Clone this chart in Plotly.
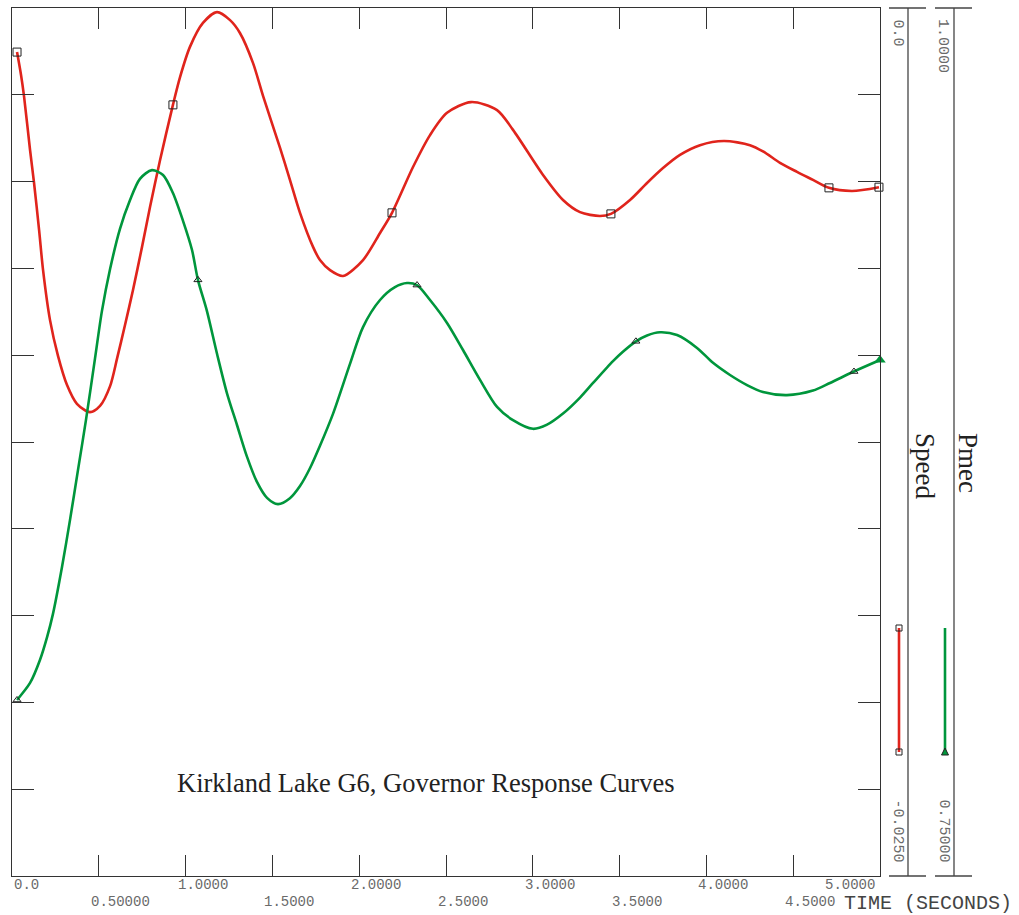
import plotly.graph_objects as go

# ---------------- data ----------------
speed_t = [0.029, 0.052, 0.069, 0.104, 0.127, 0.156, 0.179, 0.219, 0.265, 0.317,
           0.374, 0.449, 0.507, 0.565, 0.605, 0.651, 0.697, 0.749, 0.795, 0.853,
           0.927, 0.968, 1.025, 1.100, 1.181, 1.256, 1.313, 1.388, 1.446, 1.544,
           1.601, 1.659, 1.734, 1.774, 1.832, 1.907, 2.022, 2.120, 2.189, 2.310,
           2.408, 2.506, 2.644, 2.794, 2.886, 3.059, 3.174, 3.272, 3.387, 3.450,
           3.560, 3.658, 3.750, 3.848, 3.963, 4.101, 4.251, 4.326, 4.424, 4.522,
           4.614, 4.706, 4.839, 4.994]
speed_v = [-0.00127, -0.00193, -0.00253, -0.00409, -0.00504, -0.00639, -0.00755, -0.00899, -0.01002, -0.01086,
           -0.01140, -0.01164, -0.01146, -0.01089, -0.01010, -0.00913, -0.00812, -0.00688, -0.00573, -0.00438,
           -0.00279, -0.00199, -0.00112, -0.00043, -0.00012, -0.00035, -0.00072, -0.00158, -0.00253, -0.00403,
           -0.00495, -0.00590, -0.00688, -0.00726, -0.00755, -0.00772, -0.00726, -0.00648, -0.00590, -0.00458,
           -0.00366, -0.00302, -0.00271, -0.00294, -0.00351, -0.00481, -0.00553, -0.00588, -0.00599, -0.00593,
           -0.00553, -0.00504, -0.00461, -0.00423, -0.00395, -0.00383, -0.00395, -0.00413, -0.00446, -0.00472,
           -0.00495, -0.00518, -0.00527, -0.00516]

pmec_t = [0.029, 0.104, 0.161, 0.202, 0.236, 0.288, 0.334, 0.380, 0.426, 0.478,
          0.518, 0.565, 0.622, 0.680, 0.737, 0.806, 0.870, 0.927, 0.985, 1.037,
          1.071, 1.123, 1.181, 1.238, 1.296, 1.354, 1.411, 1.469, 1.532, 1.601,
          1.659, 1.717, 1.774, 1.849, 1.947, 2.022, 2.120, 2.206, 2.275, 2.333,
          2.408, 2.506, 2.598, 2.696, 2.794, 2.886, 3.001, 3.082, 3.174, 3.272,
          3.347, 3.462, 3.519, 3.594, 3.658, 3.733, 3.831, 3.946, 4.038, 4.136,
          4.234, 4.326, 4.464, 4.614, 4.712, 4.850, 5.000]
pmec_v = [0.8007, 0.8056, 0.8122, 0.8188, 0.8255, 0.8390, 0.8525, 0.8669, 0.8813, 0.8990,
          0.9127, 0.9248, 0.9364, 0.9447, 0.9508, 0.9533, 0.9519, 0.9467, 0.9387, 0.9303,
          0.9217, 0.9127, 0.9004, 0.8891, 0.8799, 0.8707, 0.8635, 0.8589, 0.8571, 0.8588,
          0.8623, 0.8675, 0.8739, 0.8831, 0.8975, 0.9081, 0.9159, 0.9196, 0.9208, 0.9202,
          0.9159, 0.9093, 0.9015, 0.8929, 0.8851, 0.8813, 0.8788, 0.8800, 0.8832, 0.8878,
          0.8920, 0.8983, 0.9010, 0.9040, 0.9057, 0.9066, 0.9058, 0.9021, 0.8978, 0.8943,
          0.8914, 0.8894, 0.8885, 0.8898, 0.8920, 0.8953, 0.8986]

speed_mark_t = [0.029, 0.927, 2.189, 3.450, 4.706, 4.994]
speed_mark_v = [-0.00127, -0.00279, -0.00590, -0.00593, -0.00518, -0.00516]
pmec_mark_t = [0.029, 1.071, 2.333, 3.594, 4.850]
pmec_mark_v = [0.8007, 0.9217, 0.9202, 0.9040, 0.8953]

x_ticks = [0.0, 0.5, 1.0, 1.5, 2.0, 2.5, 3.0, 3.5, 4.0, 4.5, 5.0]
x_tick_labels = ["0.0", "0.50000", "1.0000", "1.5000", "2.0000", "2.5000",
                 "3.0000", "3.5000", "4.0000", "4.5000", "5.0000"]
speed_range = [-0.025, 0.0]
pmec_range = [0.75, 1.0]
speed_range_labels = ["-0.0250", "0.0"]
pmec_range_labels = ["0.75000", "1.0000"]
title_text = "Kirkland Lake G6, Governor Response Curves"

RED = "#e0241c"
GREEN = "#00963c"

# ---------------- geometry ----------------
W, H = 1019, 915
L, R, T, B = 12, 880, 8, 876   # plot-area pixel box
pw, ph = R - L, B - T


def px(x):
    return (x - L) / pw


def py(y):
    return (B - y) / ph


fig = go.Figure()

fig.add_trace(go.Scatter(x=speed_t, y=speed_v, mode="lines", line=dict(color=RED, width=2.6, shape="spline", smoothing=0.8),
                         yaxis="y", showlegend=False, hoverinfo="skip"))
fig.add_trace(go.Scatter(x=pmec_t, y=pmec_v, mode="lines", line=dict(color=GREEN, width=2.6, shape="spline", smoothing=0.8),
                         yaxis="y2", showlegend=False, hoverinfo="skip"))
fig.add_trace(go.Scatter(x=speed_mark_t, y=speed_mark_v, mode="markers",
                         marker=dict(symbol="square-open", size=8, color="#222", line=dict(width=1)),
                         yaxis="y", showlegend=False, hoverinfo="skip", cliponaxis=False))
fig.add_trace(go.Scatter(x=pmec_mark_t, y=pmec_mark_v, mode="markers",
                         marker=dict(symbol="triangle-up-open", size=7, color="#222", line=dict(width=1)),
                         yaxis="y2", showlegend=False, hoverinfo="skip", cliponaxis=False))
fig.add_trace(go.Scatter(x=[pmec_t[-1]], y=[pmec_v[-1]], mode="markers",
                         marker=dict(symbol="triangle-up", size=10, color=GREEN),
                         yaxis="y2", showlegend=False, hoverinfo="skip", cliponaxis=False))

axis_line = "#333"
fig.update_layout(
    width=W, height=H,
    margin=dict(l=L, r=W - R, t=T, b=H - B, autoexpand=False),
    paper_bgcolor="white", plot_bgcolor="white",
    xaxis=dict(range=[0, 5], tickvals=x_ticks, showticklabels=False, ticks="inside", ticklen=21,
               tickcolor=axis_line, tickwidth=1.2, showline=True, linecolor=axis_line, linewidth=1.4,
               mirror="ticks", showgrid=False, zeroline=False),
    yaxis=dict(range=speed_range, dtick=0.0025, tick0=0, showticklabels=False, ticks="inside", ticklen=22,
               tickcolor=axis_line, tickwidth=1.2, showline=True, linecolor=axis_line, linewidth=1.4,
               mirror="ticks", showgrid=False, zeroline=False),
    yaxis2=dict(range=pmec_range, overlaying="y", visible=False),
)

ann = []
tick_font = dict(family="Liberation Mono, DejaVu Sans Mono, monospace", size=14, color="#6a6a6a")
for i, (v, lab) in enumerate(zip(x_ticks, x_tick_labels)):
    row_y = 885 if i % 2 == 0 else 902
    if i == 0:
        xa, xs = "left", 0
    elif i == len(x_ticks) - 1:
        xa, xs = "right", -3
    else:
        xa, xs = "left", -10
    ann.append(dict(x=v, xref="x", y=py(row_y), yref="paper", text=lab, showarrow=False,
                    xanchor=xa, yanchor="middle", xshift=xs, font=tick_font))

ann.append(dict(x=px(1014), xref="paper", y=py(903), yref="paper", text="TIME (SECONDS)", showarrow=False,
                xanchor="right", yanchor="middle",
                font=dict(family="Liberation Mono, DejaVu Sans Mono, monospace", size=20, color="#444")))

rot_font = dict(family="Liberation Mono, DejaVu Sans Mono, monospace", size=15, color="#6a6a6a")
ann.append(dict(x=px(897), xref="paper", y=py(17), yref="paper", text=speed_range_labels[1], textangle=90,
                showarrow=False, xanchor="center", yanchor="top", font=rot_font))
ann.append(dict(x=px(943), xref="paper", y=py(17), yref="paper", text=pmec_range_labels[1], textangle=90,
                showarrow=False, xanchor="center", yanchor="top", font=rot_font))
ann.append(dict(x=px(897), xref="paper", y=py(864), yref="paper", text=speed_range_labels[0], textangle=90,
                showarrow=False, xanchor="center", yanchor="bottom", font=rot_font))
ann.append(dict(x=px(943), xref="paper", y=py(864), yref="paper", text=pmec_range_labels[0], textangle=90,
                showarrow=False, xanchor="center", yanchor="bottom", font=rot_font))

name_font = dict(family="Liberation Serif, Times New Roman, serif", size=27, color="#222")
ann.append(dict(x=px(925), xref="paper", y=py(466), yref="paper", text="Speed", textangle=90,
                showarrow=False, xanchor="center", yanchor="middle", font=name_font))
ann.append(dict(x=px(968), xref="paper", y=py(463), yref="paper", text="Pmec", textangle=90,
                showarrow=False, xanchor="center", yanchor="middle", font=name_font))

ann.append(dict(x=px(426), xref="paper", y=py(783), yref="paper", text=title_text, showarrow=False,
                xanchor="center", yanchor="middle",
                font=dict(family="Liberation Serif, Times New Roman, serif", size=26.5, color="#222")))

fig.update_layout(annotations=ann)

# side panels and legend samples
shapes = []
panel = dict(color="#444", width=1.3)
for vx, h0, h1 in [(908, 889, 926), (954, 935, 972)]:
    shapes.append(dict(type="line", xref="paper", yref="paper", x0=px(vx), x1=px(vx), y0=py(T), y1=py(B), line=panel))
    for hy in (T, B):
        shapes.append(dict(type="line", xref="paper", yref="paper", x0=px(h0), x1=px(h1), y0=py(hy), y1=py(hy), line=panel))

shapes.append(dict(type="line", xref="paper", yref="paper", x0=px(899), x1=px(899), y0=py(628), y1=py(752),
                   line=dict(color=RED, width=2.6)))
shapes.append(dict(type="line", xref="paper", yref="paper", x0=px(945), x1=px(945), y0=py(628), y1=py(752),
                   line=dict(color=GREEN, width=2.6)))
for sy in (628, 752):
    shapes.append(dict(type="rect", xref="paper", yref="paper", x0=px(896), x1=px(902), y0=py(sy + 3), y1=py(sy - 3),
                       line=dict(color="#222", width=1)))
tri = "M {},{} L {},{} L {},{} Z".format(px(941.5), py(755), px(948.5), py(755), px(945), py(748))
shapes.append(dict(type="path", xref="paper", yref="paper", path=tri, line=dict(color="#222", width=1),
                   fillcolor=GREEN))
fig.update_layout(shapes=shapes)

fig.write_html("out.html", config={"displayModeBar": False},
               post_script="document.body.style.margin='0';")
